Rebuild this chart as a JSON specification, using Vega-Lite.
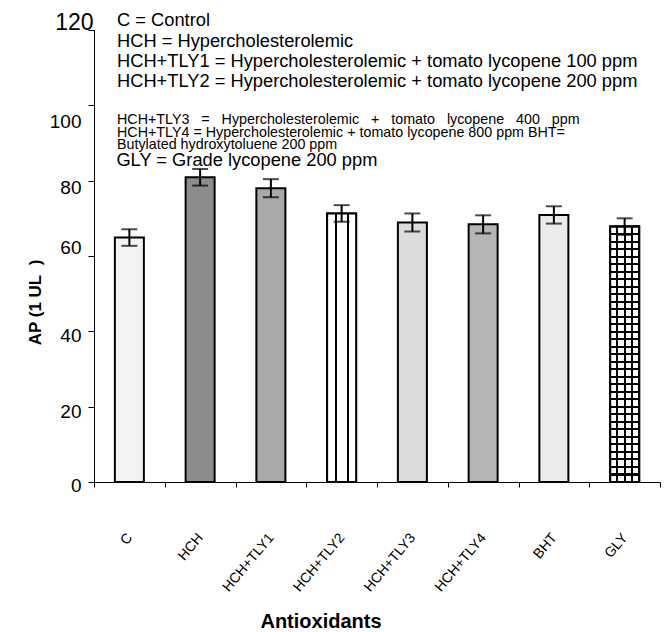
{
  "$schema": "https://vega.github.io/schema/vega-lite/v6.json",
  "width": 566,
  "height": 452,
  "autosize": "none",
  "padding": {"left": 94, "top": 30, "right": 11, "bottom": 150},
  "config": {"font": "Liberation Sans", "view": {"stroke": null}},
  "title": {
    "text": ["C = Control", "HCH = Hypercholesterolemic", "HCH+TLY1 = Hypercholesterolemic + tomato lycopene 100 ppm", "HCH+TLY2 = Hypercholesterolemic + tomato lycopene 200 ppm"],
    "subtitle": ["HCH+TLY3\u00a0\u00a0\u00a0=\u00a0\u00a0\u00a0Hypercholesterolemic\u00a0\u00a0\u00a0+\u00a0\u00a0\u00a0tomato\u00a0\u00a0\u00a0lycopene\u00a0\u00a0\u00a0400\u00a0\u00a0\u00a0ppm", "HCH+TLY4 = Hypercholesterolemic + tomato lycopene 800 ppm BHT=", "Butylated hydroxytoluene 200 ppm"],
    "anchor": "start",
    "frame": "group",
    "dx": 23,
    "offset": -142,
    "font": "Liberation Sans",
    "fontSize": 18.3,
    "fontWeight": "normal",
    "color": "black",
    "lineHeight": 20.2,
    "subtitleFont": "Liberation Sans",
    "subtitleFontSize": 14.3,
    "subtitleLineHeight": 12.2,
    "subtitleColor": "black",
    "subtitlePadding": 22
  },
  "data": {
    "values": [
      {"group": "C", "ap": 64.9, "err": 2.2},
      {"group": "HCH", "ap": 80.9, "err": 2.2},
      {"group": "HCH+TLY1", "ap": 78.0, "err": 2.4},
      {"group": "HCH+TLY2", "ap": 71.3, "err": 2.2},
      {"group": "HCH+TLY3", "ap": 68.9, "err": 2.4},
      {"group": "HCH+TLY4", "ap": 68.4, "err": 2.4},
      {"group": "BHT", "ap": 70.9, "err": 2.3},
      {"group": "GLY", "ap": 67.8, "err": 2.2}
    ]
  },
  "encoding": {
    "x": {
      "field": "group",
      "type": "nominal",
      "sort": null,
      "scale": {"type": "band", "domain": ["C", "HCH", "HCH+TLY1", "HCH+TLY2", "HCH+TLY3", "HCH+TLY4", "BHT", "GLY"], "paddingInner": 0, "paddingOuter": 0},
      "axis": {
        "title": "Antioxidants",
        "titleFontSize": 20,
        "titleFontWeight": "bold",
        "titleColor": "black",
        "titleX": 226.5,
        "titleY": 145,
        "titleAlign": "center",
        "titleBaseline": "alphabetic",
        "labelAngle": -50,
        "labelFontSize": 14,
        "labelPadding": 48,
        "labelColor": "black",
        "labelOverlap": false,
        "labelBound": false,
        "labelFlush": false,
        "tickBand": "extent",
        "tickSize": 5,
        "tickColor": "black",
        "domainColor": "black",
        "grid": false
      }
    },
    "y": {
      "field": "ap",
      "type": "quantitative",
      "scale": {"domain": [0, 120], "nice": false, "zero": true},
      "axis": {
        "title": "AP (1 UL\u00a0\u00a0)",
        "titleFontSize": 17,
        "titleFontWeight": "bold",
        "titleColor": "black",
        "titleX": -54,
        "titleY": 272,
        "titleAlign": "center",
        "titleBaseline": "alphabetic",
        "values": [0, 20, 40, 60, 80, 100, 120],
        "grid": false,
        "tickSize": 6,
        "tickColor": "black",
        "domainColor": "black",
        "labelColor": "black",
        "labelFontSize": {"condition": {"test": "datum.value == 120", "value": 23}, "value": 19},
        "labelPadding": {"condition": {"test": "datum.value == 120", "value": -5}, "value": 7},
        "labelOffset": {"condition": [
          {"test": "datum.value == 120", "value": -8},
          {"test": "datum.value == 100", "value": 16},
          {"test": "datum.value == 80", "value": 7},
          {"test": "datum.value == 60", "value": -9},
          {"test": "datum.value == 40", "value": 4},
          {"test": "datum.value == 20", "value": 5}
        ], "value": 3},
        "labelOverlap": false,
        "labelFlush": false
      }
    }
  },
  "layer": [
    {
      "mark": {"type": "bar", "width": {"band": 0.41}, "stroke": "black", "strokeWidth": 2},
      "encoding": {
        "color": {
          "field": "group",
          "type": "nominal",
          "scale": {"domain": ["C", "HCH", "HCH+TLY1", "HCH+TLY2", "HCH+TLY3", "HCH+TLY4", "BHT", "GLY"], "range": ["#f3f3f3", "#8c8c8c", "#a9a9a9", "#ffffff", "#dcdcdc", "#b5b5b5", "#ebebeb", "#ffffff"]},
          "legend": null
        }
      }
    },
    {
      "transform": [{"filter": "datum.group == 'HCH+TLY2'"}],
      "mark": {"type": "bar", "width": {"band": 0.41}, "stroke": "black", "strokeWidth": 2,
        "fill": {"gradient": "linear", "x1": 0, "y1": 0, "x2": 1, "y2": 0, "stops": [
          {"offset": 0, "color": "#ffffff"}, {"offset": 0.265, "color": "#ffffff"}, {"offset": 0.265, "color": "#000000"}, {"offset": 0.335, "color": "#000000"}, {"offset": 0.335, "color": "#ffffff"},
          {"offset": 0.675, "color": "#ffffff"}, {"offset": 0.675, "color": "#000000"}, {"offset": 0.745, "color": "#000000"}, {"offset": 0.745, "color": "#ffffff"}, {"offset": 1, "color": "#ffffff"}
        ]}
      }
    },
    {
      "transform": [{"filter": "datum.group == 'GLY'"}],
      "mark": {"type": "bar", "width": {"band": 0.41}, "stroke": "black", "strokeWidth": 2,
        "fill": {"gradient": "linear", "x1": 0, "y1": 0, "x2": 1, "y2": 0, "stops": [
          {"offset": 0, "color": "#ffffff"}, {"offset": 0.215, "color": "#ffffff"}, {"offset": 0.215, "color": "#000000"}, {"offset": 0.285, "color": "#000000"}, {"offset": 0.285, "color": "#ffffff"},
          {"offset": 0.465, "color": "#ffffff"}, {"offset": 0.465, "color": "#000000"}, {"offset": 0.535, "color": "#000000"}, {"offset": 0.535, "color": "#ffffff"},
          {"offset": 0.715, "color": "#ffffff"}, {"offset": 0.715, "color": "#000000"}, {"offset": 0.785, "color": "#000000"}, {"offset": 0.785, "color": "#ffffff"}, {"offset": 1, "color": "#ffffff"}
        ]}
      }
    },
    {
      "transform": [{"filter": "datum.group == 'GLY'"}],
      "mark": {"type": "bar", "width": {"band": 0.41}, "stroke": "black", "strokeWidth": 2,
        "fill": {"gradient": "linear", "x1": 0, "y1": 0, "x2": 0, "y2": 1, "stops": [
          {"offset": 0, "color": "rgba(0,0,0,0)"},
          {"offset": 0.0254, "color": "rgba(0,0,0,0)"}, {"offset": 0.0254, "color": "#000"}, {"offset": 0.0334, "color": "#000"}, {"offset": 0.0334, "color": "rgba(0,0,0,0)"},
          {"offset": 0.0548, "color": "rgba(0,0,0,0)"}, {"offset": 0.0548, "color": "#000"}, {"offset": 0.0628, "color": "#000"}, {"offset": 0.0628, "color": "rgba(0,0,0,0)"},
          {"offset": 0.0842, "color": "rgba(0,0,0,0)"}, {"offset": 0.0842, "color": "#000"}, {"offset": 0.0922, "color": "#000"}, {"offset": 0.0922, "color": "rgba(0,0,0,0)"},
          {"offset": 0.1136, "color": "rgba(0,0,0,0)"}, {"offset": 0.1136, "color": "#000"}, {"offset": 0.1216, "color": "#000"}, {"offset": 0.1216, "color": "rgba(0,0,0,0)"},
          {"offset": 0.1431, "color": "rgba(0,0,0,0)"}, {"offset": 0.1431, "color": "#000"}, {"offset": 0.1511, "color": "#000"}, {"offset": 0.1511, "color": "rgba(0,0,0,0)"},
          {"offset": 0.1725, "color": "rgba(0,0,0,0)"}, {"offset": 0.1725, "color": "#000"}, {"offset": 0.1805, "color": "#000"}, {"offset": 0.1805, "color": "rgba(0,0,0,0)"},
          {"offset": 0.2019, "color": "rgba(0,0,0,0)"}, {"offset": 0.2019, "color": "#000"}, {"offset": 0.2099, "color": "#000"}, {"offset": 0.2099, "color": "rgba(0,0,0,0)"},
          {"offset": 0.2313, "color": "rgba(0,0,0,0)"}, {"offset": 0.2313, "color": "#000"}, {"offset": 0.2393, "color": "#000"}, {"offset": 0.2393, "color": "rgba(0,0,0,0)"},
          {"offset": 0.2607, "color": "rgba(0,0,0,0)"}, {"offset": 0.2607, "color": "#000"}, {"offset": 0.2687, "color": "#000"}, {"offset": 0.2687, "color": "rgba(0,0,0,0)"},
          {"offset": 0.2901, "color": "rgba(0,0,0,0)"}, {"offset": 0.2901, "color": "#000"}, {"offset": 0.2981, "color": "#000"}, {"offset": 0.2981, "color": "rgba(0,0,0,0)"},
          {"offset": 0.3195, "color": "rgba(0,0,0,0)"}, {"offset": 0.3195, "color": "#000"}, {"offset": 0.3275, "color": "#000"}, {"offset": 0.3275, "color": "rgba(0,0,0,0)"},
          {"offset": 0.3489, "color": "rgba(0,0,0,0)"}, {"offset": 0.3489, "color": "#000"}, {"offset": 0.3569, "color": "#000"}, {"offset": 0.3569, "color": "rgba(0,0,0,0)"},
          {"offset": 0.3784, "color": "rgba(0,0,0,0)"}, {"offset": 0.3784, "color": "#000"}, {"offset": 0.3864, "color": "#000"}, {"offset": 0.3864, "color": "rgba(0,0,0,0)"},
          {"offset": 0.4078, "color": "rgba(0,0,0,0)"}, {"offset": 0.4078, "color": "#000"}, {"offset": 0.4158, "color": "#000"}, {"offset": 0.4158, "color": "rgba(0,0,0,0)"},
          {"offset": 0.4372, "color": "rgba(0,0,0,0)"}, {"offset": 0.4372, "color": "#000"}, {"offset": 0.4452, "color": "#000"}, {"offset": 0.4452, "color": "rgba(0,0,0,0)"},
          {"offset": 0.4666, "color": "rgba(0,0,0,0)"}, {"offset": 0.4666, "color": "#000"}, {"offset": 0.4746, "color": "#000"}, {"offset": 0.4746, "color": "rgba(0,0,0,0)"},
          {"offset": 0.496, "color": "rgba(0,0,0,0)"}, {"offset": 0.496, "color": "#000"}, {"offset": 0.504, "color": "#000"}, {"offset": 0.504, "color": "rgba(0,0,0,0)"},
          {"offset": 0.5254, "color": "rgba(0,0,0,0)"}, {"offset": 0.5254, "color": "#000"}, {"offset": 0.5334, "color": "#000"}, {"offset": 0.5334, "color": "rgba(0,0,0,0)"},
          {"offset": 0.5548, "color": "rgba(0,0,0,0)"}, {"offset": 0.5548, "color": "#000"}, {"offset": 0.5628, "color": "#000"}, {"offset": 0.5628, "color": "rgba(0,0,0,0)"},
          {"offset": 0.5842, "color": "rgba(0,0,0,0)"}, {"offset": 0.5842, "color": "#000"}, {"offset": 0.5922, "color": "#000"}, {"offset": 0.5922, "color": "rgba(0,0,0,0)"},
          {"offset": 0.6136, "color": "rgba(0,0,0,0)"}, {"offset": 0.6136, "color": "#000"}, {"offset": 0.6216, "color": "#000"}, {"offset": 0.6216, "color": "rgba(0,0,0,0)"},
          {"offset": 0.6431, "color": "rgba(0,0,0,0)"}, {"offset": 0.6431, "color": "#000"}, {"offset": 0.6511, "color": "#000"}, {"offset": 0.6511, "color": "rgba(0,0,0,0)"},
          {"offset": 0.6725, "color": "rgba(0,0,0,0)"}, {"offset": 0.6725, "color": "#000"}, {"offset": 0.6805, "color": "#000"}, {"offset": 0.6805, "color": "rgba(0,0,0,0)"},
          {"offset": 0.7019, "color": "rgba(0,0,0,0)"}, {"offset": 0.7019, "color": "#000"}, {"offset": 0.7099, "color": "#000"}, {"offset": 0.7099, "color": "rgba(0,0,0,0)"},
          {"offset": 0.7313, "color": "rgba(0,0,0,0)"}, {"offset": 0.7313, "color": "#000"}, {"offset": 0.7393, "color": "#000"}, {"offset": 0.7393, "color": "rgba(0,0,0,0)"},
          {"offset": 0.7607, "color": "rgba(0,0,0,0)"}, {"offset": 0.7607, "color": "#000"}, {"offset": 0.7687, "color": "#000"}, {"offset": 0.7687, "color": "rgba(0,0,0,0)"},
          {"offset": 0.7901, "color": "rgba(0,0,0,0)"}, {"offset": 0.7901, "color": "#000"}, {"offset": 0.7981, "color": "#000"}, {"offset": 0.7981, "color": "rgba(0,0,0,0)"},
          {"offset": 0.8195, "color": "rgba(0,0,0,0)"}, {"offset": 0.8195, "color": "#000"}, {"offset": 0.8275, "color": "#000"}, {"offset": 0.8275, "color": "rgba(0,0,0,0)"},
          {"offset": 0.8489, "color": "rgba(0,0,0,0)"}, {"offset": 0.8489, "color": "#000"}, {"offset": 0.8569, "color": "#000"}, {"offset": 0.8569, "color": "rgba(0,0,0,0)"},
          {"offset": 0.8784, "color": "rgba(0,0,0,0)"}, {"offset": 0.8784, "color": "#000"}, {"offset": 0.8864, "color": "#000"}, {"offset": 0.8864, "color": "rgba(0,0,0,0)"},
          {"offset": 0.9078, "color": "rgba(0,0,0,0)"}, {"offset": 0.9078, "color": "#000"}, {"offset": 0.9158, "color": "#000"}, {"offset": 0.9158, "color": "rgba(0,0,0,0)"},
          {"offset": 0.9372, "color": "rgba(0,0,0,0)"}, {"offset": 0.9372, "color": "#000"}, {"offset": 0.9452, "color": "#000"}, {"offset": 0.9452, "color": "rgba(0,0,0,0)"},
          {"offset": 0.9666, "color": "rgba(0,0,0,0)"}, {"offset": 0.9666, "color": "#000"}, {"offset": 0.9746, "color": "#000"}, {"offset": 0.9746, "color": "rgba(0,0,0,0)"},
          {"offset": 1, "color": "rgba(0,0,0,0)"}
        ]}
      }
    },
    {
      "mark": {"type": "errorbar", "ticks": {"size": 16, "thickness": 2, "color": "black"}, "rule": {"strokeWidth": 2, "color": "black"}, "size": 16, "thickness": 2, "color": "black"},
      "encoding": {
        "yError": {"field": "err"}
      }
    },
    {
      "transform": [{"filter": "datum.group == 'C'"}],
      "mark": {"type": "text", "align": "left", "baseline": "alphabetic", "fontSize": 18.3, "color": "black", "dx": -13},
      "encoding": {
        "y": {"datum": 83.9, "type": "quantitative"},
        "text": {"value": "GLY = Grade lycopene 200 ppm"}
      }
    }
  ]
}
